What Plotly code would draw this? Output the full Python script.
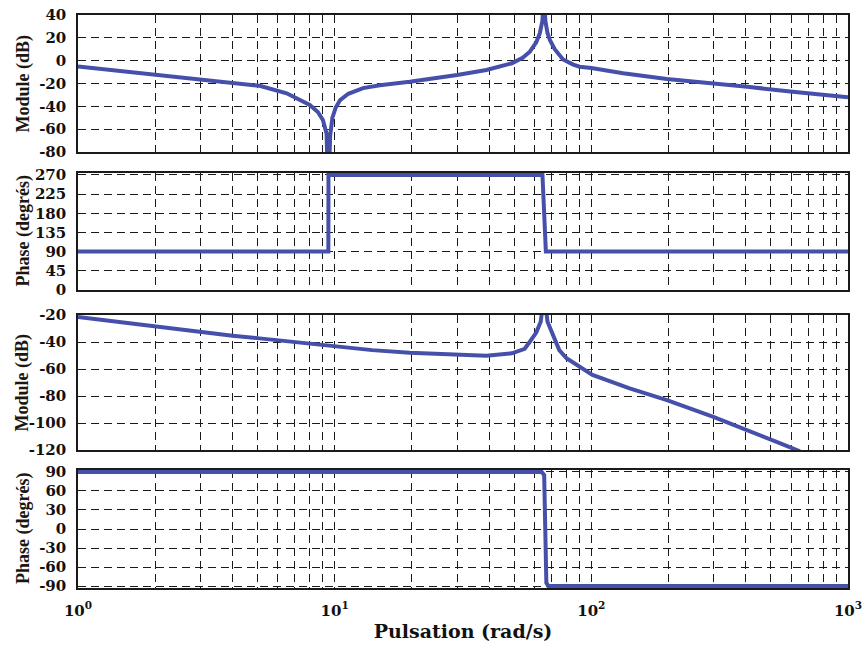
import plotly.graph_objects as go

# ---- Data: frequency response read at selected pulsations (rad/s) ----
# System 1: magnitude (dB) and phase (degrees)
w_mag1 = [1, 2, 3, 3.9, 5.1, 6.5, 8, 8.6, 9.0, 9.3, 9.45, 9.6, 9.8, 10.1, 10.5,
          11.3, 12.9, 15, 19.6, 30, 39, 49, 54, 57.6, 61, 63, 64.5, 65.3,
          66.2, 67.5, 69, 72, 77.6, 85, 90, 100, 133, 197, 297, 405, 595, 1000]
mag1 = [-5, -12, -16, -18.7, -22, -28.6, -38.8, -45, -52, -64, -120, -66, -50, -41,
        -34.5, -29, -24, -21.5, -18.4, -12.5, -8.2, -2.3, 2.5, 7.9, 16, 24, 35, 60,
        35, 24, 18, 10, 1, -3.5, -5.3, -6.5, -11, -16, -19.8, -22.8, -27.1, -32]
w_ph1 = [1, 9.45, 9.46, 64.5, 65.5, 66.5, 1000]
ph1 = [90, 90, 270, 270, 180, 90, 90]

# System 2: magnitude (dB) and phase (degrees)
w_mag2 = [1, 2, 2.93, 4, 5.1, 6.5, 10.2, 14, 19.6, 30, 39, 49, 55, 57.6, 61,
          63.5, 65.5, 67.5, 71, 75, 80, 90, 101, 141, 197, 297, 405, 545, 650]
mag2 = [-21.5, -28.6, -32.3, -35.3, -37.3, -39.3, -43, -46, -47.9, -49.6, -50.1,
        -48.4, -45, -39.8, -33, -25, -5, -25, -36, -46, -52, -58.3, -64.4, -74.3,
        -83, -95.3, -105, -115, -121]
w_ph2 = [1, 64, 65.5, 66.2, 66.8, 68, 1000]
ph2 = [90, 90, 85, 0, -85, -90, -90]

# Axis ticks: labelled decades, plus dashed grid at 2..9 of each decade
x_major = [1, 10, 100, 1000]
x_major_text = ["10<sup>0</sup>", "10<sup>1</sup>", "10<sup>2</sup>", "10<sup>3</sup>"]
x_minor = [k * d for d in (1, 10, 100) for k in range(2, 10)]
y_ticks = [
    [-80, -60, -40, -20, 0, 20, 40],
    [0, 45, 90, 135, 180, 225, 270],
    [-120, -100, -80, -60, -40, -20],
    [-90, -60, -30, 0, 30, 60, 90],
]
y_titles = ["Module (dB)", "Phase (degrés)", "Module (dB)", "Phase (degrés)"]
y_ranges = [[-80, 40], [0, 274.5], [-120, -20], [-93, 93]]
domains = [[0.7609, 1.0], [0.5201, 0.7243], [0.2408, 0.4764], [0.0, 0.2059]]

LINE = "#4650aa"
INK = "#111111"
GRID = "#1a1a1a"
TICK_FONT = dict(family="DejaVu Serif", size=15, color=INK)

series = [(w_mag1, mag1), (w_ph1, ph1), (w_mag2, mag2), (w_ph2, ph2)]

fig = go.Figure()
for i, (wx, yy) in enumerate(series):
    n = "" if i == 0 else str(i + 1)
    fig.add_trace(go.Scatter(
        x=wx, y=yy, mode="lines", xaxis="x" + n, yaxis="y" + n,
        line=dict(color=LINE, width=4), showlegend=False, hoverinfo="skip",
    ))

grid_common = dict(
    showgrid=True, gridcolor=GRID, gridwidth=1, griddash="8px,5px",
    showline=True, linecolor=GRID, linewidth=1.5, mirror=True,
    zeroline=False, layer="below traces", automargin=False,
)

layout = dict(
    width=865, height=649,
    margin=dict(l=78, r=17, t=15, b=61),
    paper_bgcolor="white", plot_bgcolor="white",
    font=TICK_FONT,
    annotations=[],
)

for i in range(4):
    n = "" if i == 0 else str(i + 1)
    last = i == 3
    xa = dict(
        type="log", range=[0, 3], anchor="y" + n,
        tickmode="array", tickvals=x_major,
        ticktext=[f"<b>{t}</b>" for t in x_major_text],
        showticklabels=last, ticks="outside" if last else "",
        ticklen=8, tickcolor="rgba(0,0,0,0)",
        tickfont=TICK_FONT,
        minor=dict(tickmode="array", tickvals=x_minor, showgrid=True,
                   gridcolor=GRID, gridwidth=1, griddash="8px,5px", ticks=""),
        **grid_common,
    )
    if last:
        xa["title"] = dict(text="<b>Pulsation (rad/s)</b>",
                           font=dict(family="DejaVu Serif", size=19, color=INK),
                           standoff=6)
    else:
        xa["matches"] = "x4"
    layout["xaxis" + n] = xa
    layout["yaxis" + n] = dict(
        anchor="x" + n, domain=domains[i], range=y_ranges[i],
        tickmode="array", tickvals=y_ticks[i],
        ticktext=[f"<b>{v}</b>" for v in y_ticks[i]],
        ticks="outside", ticklen=7, tickcolor="rgba(0,0,0,0)",
        tickfont=TICK_FONT,
        **grid_common,
    )
    layout["annotations"].append(dict(
        text=f"<b>{y_titles[i]}</b>", textangle=-90,
        xref="paper", yref="paper", x=-0.0714, xanchor="center",
        y=(domains[i][0] + domains[i][1]) / 2, yanchor="middle",
        showarrow=False,
        font=dict(family="Liberation Serif", size=18, color="#1c1710"),
    ))

fig.update_layout(**layout)
fig.write_html("out.html")
